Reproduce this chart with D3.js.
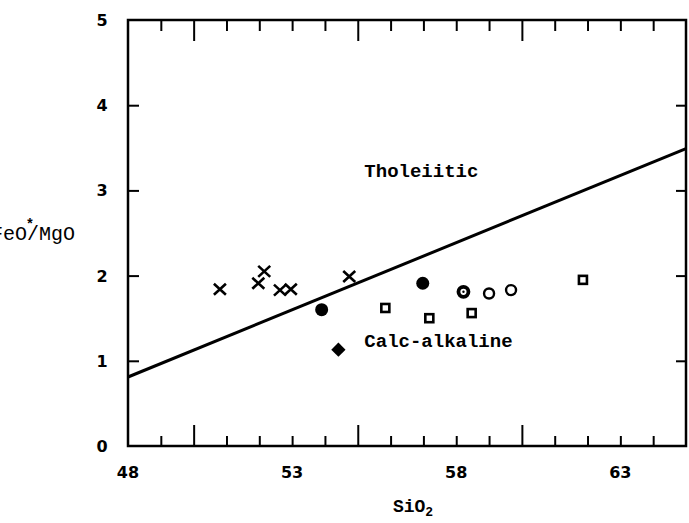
<!DOCTYPE html>
<html>
<head>
<meta charset="utf-8">
<script src="https://cdn.jsdelivr.net/npm/d3@7"></script>
<style>
  html, body { margin: 0; padding: 0; background: #fff; }
  svg { display: block; }
</style>
</head>
<body>
<svg id="chart" width="689" height="523"></svg>
<script>
// ---- data ----
const xDomain = [48, 65];
const yDomain = [0, 5];
const xTickLabels = [48, 53, 58, 63];
const yTickLabels = [0, 1, 2, 3, 4, 5];
const xMinorTicks = [49, 51, 52, 53, 54, 56, 57, 58, 59, 61, 62, 63, 64];
const xMajorTicks = [50, 55, 60];
const yInnerTicks = [1, 2, 3, 4];

// boundary line (Miyashiro)
const boundarySiO2 = [48, 65];
const boundaryRatio = [0.81, 3.49];

// sample groups
const crossSiO2 = [50.8, 51.97, 52.15, 52.63, 52.96, 54.74];
const crossRatio = [1.84, 1.91, 2.05, 1.83, 1.84, 1.99];
const filledCircleSiO2 = [53.9, 56.98];
const filledCircleRatio = [1.60, 1.91];
const diamondSiO2 = [54.41];
const diamondRatio = [1.13];
const squareSiO2 = [55.84, 57.18, 58.47, 61.86];
const squareRatio = [1.62, 1.50, 1.56, 1.95];
const ringSiO2 = [58.22];
const ringRatio = [1.81];
const openCircleSiO2 = [59.0, 59.67];
const openCircleRatio = [1.79, 1.83];

const fieldLabels = ["Tholeiitic", "Calc-alkaline"];
const fieldLabelSiO2 = [55.2, 55.2];
const fieldLabelRatio = [3.16, 1.16];

// ---- layout ----
const svg = d3.select("#chart");
const L = 128, R = 686, T = 20, B = 446;
const x = d3.scaleLinear().domain(xDomain).range([L, R]);
const y = d3.scaleLinear().domain(yDomain).range([B, T]);
const zip = (a, b) => a.map((v, i) => [v, b[i]]);

const mono = "'Liberation Mono', 'DejaVu Sans Mono', monospace";
const sans = "'DejaVu Sans', sans-serif";

// frame
svg.append("rect").attr("x", L).attr("y", T).attr("width", R - L).attr("height", B - T)
  .attr("fill", "none").attr("stroke", "#000").attr("stroke-width", 2.5);

// ticks via axes
function styleAxis(g) {
  g.select(".domain").remove();
  g.selectAll("line").attr("stroke", "#000").attr("stroke-width", 2);
  g.selectAll("text").remove();
}
svg.append("g").attr("transform", `translate(0,${B})`)
  .call(d3.axisBottom(x).tickValues(xMinorTicks).tickSizeInner(-10).tickSizeOuter(0)).call(styleAxis);
svg.append("g").attr("transform", `translate(0,${B})`)
  .call(d3.axisBottom(x).tickValues(xMajorTicks).tickSizeInner(-21).tickSizeOuter(0)).call(styleAxis);
svg.append("g").attr("transform", `translate(0,${T})`)
  .call(d3.axisTop(x).tickValues(xMinorTicks).tickSizeInner(-11).tickSizeOuter(0)).call(styleAxis);
svg.append("g").attr("transform", `translate(0,${T})`)
  .call(d3.axisTop(x).tickValues(xMajorTicks).tickSizeInner(-21).tickSizeOuter(0)).call(styleAxis);
svg.append("g").attr("transform", `translate(${L},0)`)
  .call(d3.axisLeft(y).tickValues(yInnerTicks).tickSizeInner(-11).tickSizeOuter(0)).call(styleAxis);
svg.append("g").attr("transform", `translate(${R},0)`)
  .call(d3.axisRight(y).tickValues(yInnerTicks).tickSizeInner(-10).tickSizeOuter(0)).call(styleAxis);

// tick labels
svg.append("g").selectAll("text").data(xTickLabels).join("text")
  .attr("x", d => x(d)).attr("y", 478)
  .attr("text-anchor", "middle").attr("font-family", sans).attr("font-weight", "bold")
  .attr("font-size", 16).text(d => d);
svg.append("g").selectAll("text").data(yTickLabels).join("text")
  .attr("x", 102).attr("y", d => y(d) + 6)
  .attr("text-anchor", "middle").attr("font-family", sans).attr("font-weight", "bold")
  .attr("font-size", 16).text(d => d);

// axis titles
const xt = svg.append("text").attr("x", 413).attr("y", 512).attr("text-anchor", "middle")
  .attr("font-family", mono).attr("font-weight", "bold").attr("font-size", 18);
xt.append("tspan").text("SiO");
xt.append("tspan").attr("font-size", 13).attr("dy", 4).text("2");

svg.append("text").attr("x", -9).attr("y", 240)
  .attr("font-family", mono).attr("font-size", 20).text("FeO/MgO")
  .attr("textLength", 84).attr("lengthAdjust", "spacing");
svg.append("text").attr("x", 30).attr("y", 229).attr("text-anchor", "middle")
  .attr("font-family", mono).attr("font-weight", "bold").attr("font-size", 14).text("*");

// boundary line
svg.append("path").datum(zip(boundarySiO2, boundaryRatio))
  .attr("d", d3.line().x(d => x(d[0])).y(d => y(d[1])))
  .attr("fill", "none").attr("stroke", "#000").attr("stroke-width", 3);

// field labels
svg.append("g").selectAll("text").data(fieldLabels).join("text")
  .attr("x", (d, i) => x(fieldLabelSiO2[i])).attr("y", (d, i) => y(fieldLabelRatio[i]))
  .attr("font-family", mono).attr("font-weight", "bold").attr("font-size", 19)
  .text(d => d);

// markers
const g = svg.append("g");
g.selectAll(".cross").data(zip(crossSiO2, crossRatio)).join("path").attr("class", "cross")
  .attr("d", d => { const cx = x(d[0]), cy = y(d[1]);
    return `M${cx - 6},${cy - 5.5}L${cx + 6},${cy + 5.5}M${cx - 6},${cy + 5.5}L${cx + 6},${cy - 5.5}`; })
  .attr("stroke", "#000").attr("stroke-width", 2.6).attr("fill", "none");

g.selectAll(".fc").data(zip(filledCircleSiO2, filledCircleRatio)).join("circle").attr("class", "fc")
  .attr("cx", d => x(d[0])).attr("cy", d => y(d[1])).attr("r", 6.5).attr("fill", "#000");

g.selectAll(".dm").data(zip(diamondSiO2, diamondRatio)).join("path").attr("class", "dm")
  .attr("transform", d => `translate(${x(d[0])},${y(d[1])})`)
  .attr("d", d3.symbol().type(d3.symbolDiamond2).size(130)).attr("fill", "#000");

g.selectAll(".sq").data(zip(squareSiO2, squareRatio)).join("rect").attr("class", "sq")
  .attr("x", d => x(d[0]) - 4).attr("y", d => y(d[1]) - 4).attr("width", 8).attr("height", 8)
  .attr("fill", "#fff").attr("stroke", "#000").attr("stroke-width", 2.6);

g.selectAll(".ring").data(zip(ringSiO2, ringRatio)).join("circle").attr("class", "ring")
  .attr("cx", d => x(d[0])).attr("cy", d => y(d[1])).attr("r", 5)
  .attr("fill", "#fff").attr("stroke", "#000").attr("stroke-width", 3.8);
g.selectAll(".ringdot").data(zip(ringSiO2, ringRatio)).join("circle").attr("class", "ringdot")
  .attr("cx", d => x(d[0])).attr("cy", d => y(d[1])).attr("r", 1.2).attr("fill", "#000");

g.selectAll(".oc").data(zip(openCircleSiO2, openCircleRatio)).join("circle").attr("class", "oc")
  .attr("cx", d => x(d[0])).attr("cy", d => y(d[1])).attr("r", 5)
  .attr("fill", "#fff").attr("stroke", "#000").attr("stroke-width", 2.4);
</script>
</body>
</html>
